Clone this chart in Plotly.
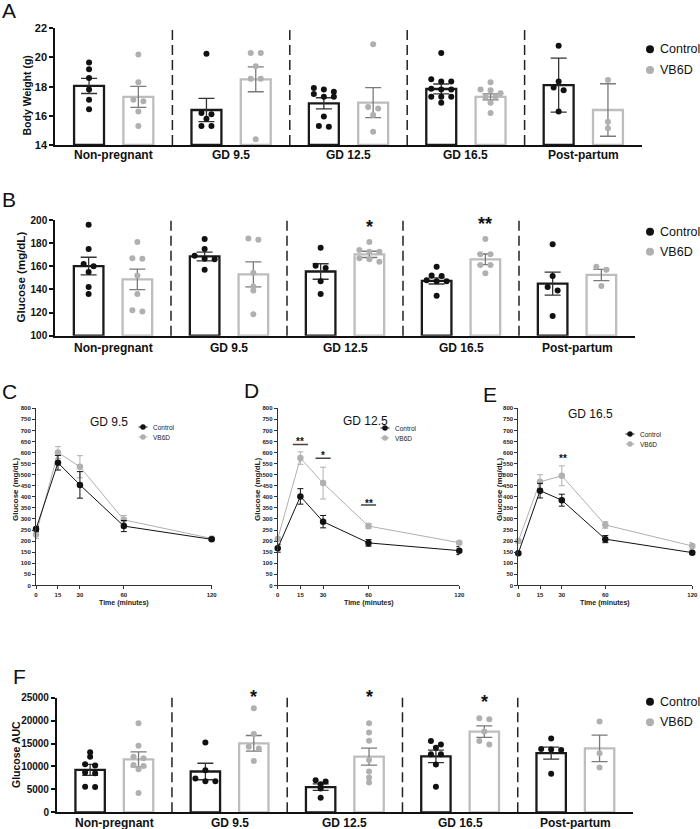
import plotly.graph_objects as go

W, H = 700, 829
def px(x): return x / W
def py(y): return 1 - y / H

FONT = "Arial, Liberation Sans, sans-serif"
CTRL_C = "#111111"
VB_C = "#b0b0b0"

groups = ["Non-pregnant", "GD 9.5", "GD 12.5", "GD 16.5", "Post-partum"]

# ---------------- Panel A: body weight (g) ----------------
bw_ctrl_pts = [[19.65, 19.2, 18.6, 17.8, 17.1, 16.45],
               [20.25, 16.2, 16.1, 15.8, 15.3, 15.3],
               [17.9, 17.8, 17.65, 17.5, 17.3, 17.3, 15.95, 15.3, 15.25],
               [20.3, 18.5, 18.35, 18.35, 17.85, 17.8, 17.8, 17.3, 17.3, 17.3, 16.9],
               [20.8, 18.35, 17.95, 17.75, 16.3]]
bw_ctrl_mean = [18.05, 16.4, 16.86, 17.84, 18.1]
bw_ctrl_sem = [0.52, 0.8, 0.38, 0.34, 1.85]
bw_vb_pts = [[20.2, 18.3, 17.1, 17.0, 16.3, 15.3],
             [20.3, 20.3, 19.4, 18.55, 18.55, 14.4],
             [20.9, 16.6, 16.5, 16.05, 14.9],
             [18.3, 17.8, 17.75, 17.55, 17.3, 17.3, 16.9, 16.2],
             [18.45, 15.6, 15.15]]
bw_vb_mean = [17.3, 18.5, 16.9, 17.3, 16.4]
bw_vb_sem = [0.72, 0.85, 1.03, 0.2, 1.8]

# ---------------- Panel B: glucose (mg/dL) ----------------
gl_ctrl_pts = [[196, 175, 162, 160, 155, 142, 136],
               [183.5, 175, 169, 166.5, 166, 157],
               [176, 160.5, 158.5, 147, 136],
               [159.5, 152, 151.5, 148, 147, 147, 134.5],
               [179, 151.5, 142, 139, 117]]
gl_ctrl_mean = [160.2, 168.5, 155.5, 147.3, 145]
gl_ctrl_sem = [7.6, 3.8, 6.7, 2.6, 10]
gl_vb_pts = [[181, 167, 166.5, 152, 136, 122, 121],
             [184, 183, 154.5, 142.5, 139, 118.5],
             [181, 174, 172.5, 172.5, 167, 166, 164],
             [183.5, 170.5, 170.5, 161, 161, 154],
             [159.5, 157, 143]]
gl_vb_mean = [148.7, 153, 170.3, 166, 152.5]
gl_vb_sem = [8.9, 10.8, 2.7, 4.6, 4.9]
gl_stars = [(2, "*", 197.7), (3, "**", 200)]

# ---------------- Panel F: glucose AUC ----------------
auc_ctrl_pts = [[13100, 12100, 10500, 10200, 8700, 8500, 5600, 5500],
                [15200, 9200, 7400, 6800, 6800],
                [7000, 6700, 6100, 5200, 3200],
                [15550, 14800, 14100, 12650, 12650, 10450, 5600],
                [16100, 13800, 13700, 13600, 8400]]
auc_ctrl_mean = [9250, 8900, 5500, 12200, 12900]
auc_ctrl_sem = [1200, 1800, 700, 1350, 1300]
auc_vb_pts = [[19400, 14500, 12100, 11800, 10300, 10100, 9400, 4200],
              [22700, 17100, 14300, 13900, 11200],
              [19400, 17400, 15600, 11400, 8900, 7600, 6500],
              [20500, 20300, 17600, 15550, 14800],
              [19800, 12900, 9800]]
auc_vb_mean = [11550, 15050, 12150, 17600, 13950]
auc_vb_sem = [1650, 1700, 1850, 1270, 2900]
auc_stars = [(1, "*", 25960), (2, "*", 25960), (3, "*", 24870)]

# ---------------- Panels C-E: GTT curves ----------------
times = [0, 15, 30, 60, 120]
c_ctrl = [255, 554, 454, 268, 208]
c_ctrl_sem = [12, 33, 60, 25, 6]
c_vb = [230, 600, 536, 296, 212]
c_vb_sem = [18, 27, 50, 20, 5]
d_ctrl = [168, 402, 288, 192, 157]
d_ctrl_sem = [18, 35, 28, 15, 18]
d_vb = [210, 575, 462, 268, 193]
d_vb_sem = [8, 28, 72, 12, 6]
e_ctrl = [145, 428, 385, 209, 148]
e_ctrl_sem = [6, 33, 27, 16, 6]
e_vb = [200, 468, 495, 273, 178]
e_vb_sem = [8, 32, 45, 15, 15]
d_sig_t = [15, 30, 60]
d_sig_bar_y = [637, 574, 363]
d_sig_star_y = [660, 597, 383]
d_sig_lab = ["**", "*", "**"]
e_sig_t = [31]
e_sig_star_y = [585]
e_sig_lab = ["**"]

fig = go.Figure()
annotations = []
shapes = []
layout_axes = {}


def axn(n):
    return "" if n == 1 else str(n)


def swarm(vals, center, ux, uy, dx=10.0, thr=4.0):
    order = sorted(vals, reverse=True)
    rows = []
    for v in order:
        if rows and (rows[-1][0] - v) * uy < thr:
            rows[-1].append(v)
        else:
            rows.append([v])
    xs, ys = [], []
    for r in rows:
        n = len(r)
        for j, v in enumerate(r):
            xs.append(center + (j - (n - 1) / 2.0) * dx / ux)
            ys.append(v)
    return xs, ys


def legend_big(x, y1, y2):
    for y, col, lab in [(y1, CTRL_C, "Control"), (y2, VB_C, "VB6D")]:
        shapes.append(dict(type="circle", xref="paper", yref="paper",
                           x0=px(x - 4), x1=px(x + 4), y0=py(y + 4), y1=py(y - 4),
                           fillcolor=col, line=dict(width=0)))
        annotations.append(dict(text=lab, xref="paper", yref="paper", x=px(x + 8), y=py(y),
                                xanchor="left", yanchor="middle", showarrow=False,
                                font=dict(family=FONT, size=12.5, color="#111")))


def add_bar_panel(n, xd, yd, rng, dtick, cp, cm, cs, vp, vm, vs,
                  ytitle, ytpos, ytsize, ytick_size, label_y, leg, stars):
    s = axn(n)
    xa, ya = "x" + s, "y" + s
    ux = (xd[1] - xd[0]) / 5.0
    uy = (yd[1] - yd[0]) / (rng[1] - rng[0])
    base = rng[0]
    series = [(cp, cm, cs, -0.21, CTRL_C, "#333333", "#1a1a1a"),
              (vp, vm, vs, 0.21, VB_C, "#7a7a7a", "#bdbdbd")]
    for pts, mean, sem, off, col, ecol, lc in series:
        fig.add_trace(go.Bar(x=[i + off for i in range(5)], y=[m - base for m in mean], base=base,
                             width=0.255, marker=dict(color="white", line=dict(color=lc, width=2.3)),
                             xaxis=xa, yaxis=ya, hoverinfo="skip"))
    for pts, mean, sem, off, col, ecol, lc in series:
        fig.add_trace(go.Scatter(x=[i + off for i in range(5)], y=mean, mode="markers",
                                 marker=dict(size=2, color="rgba(0,0,0,0)"),
                                 error_y=dict(type="data", array=sem, color=ecol, thickness=1.3, width=8),
                                 xaxis=xa, yaxis=ya, hoverinfo="skip", cliponaxis=False))
    for pts, mean, sem, off, col, ecol, lc in series:
        xs_all, ys_all = [], []
        for i, p in enumerate(pts):
            xs, ys = swarm(p, i + off, ux, uy)
            xs_all += xs
            ys_all += ys
        fig.add_trace(go.Scatter(x=xs_all, y=ys_all, mode="markers",
                                 marker=dict(size=6, color=col, line=dict(width=0)),
                                 xaxis=xa, yaxis=ya, hoverinfo="skip", cliponaxis=False))
    layout_axes["xaxis" + s] = dict(domain=[px(xd[0]), px(xd[1])], range=[-0.5, 4.5], anchor=ya,
                                    showticklabels=False, ticks="", automargin=False,
                                    showline=True, linecolor="#111", linewidth=1.5,
                                    showgrid=False, zeroline=False)
    layout_axes["yaxis" + s] = dict(domain=[py(yd[1]), py(yd[0])], range=list(rng), anchor=xa,
                                    dtick=dtick, tick0=rng[0], ticks="outside", ticklen=4, tickwidth=1.5,
                                    tickcolor="#111", showline=True, linecolor="#111", linewidth=1.5,
                                    showgrid=False, zeroline=False, tickformat="d", automargin=False,
                                    tickfont=dict(family=FONT, size=ytick_size, color="#111", weight="bold"))
    for i, g in enumerate(groups):
        annotations.append(dict(text=g, xref=xa, yref="paper", x=i, y=py(label_y), showarrow=False,
                                xanchor="center", yanchor="middle",
                                font=dict(family=FONT, size=12, color="#111", weight="bold")))
    for k in range(4):
        shapes.append(dict(type="line", xref=xa, yref=ya + " domain", x0=k + 0.5, x1=k + 0.5,
                           y0=0, y1=1, line=dict(color="#222", width=1.5, dash="10px,5px")))
    annotations.append(dict(text=ytitle, xref="paper", yref="paper", x=px(ytpos[0]), y=py(ytpos[1]),
                            textangle=-90, showarrow=False, xanchor="center", yanchor="middle",
                            font=dict(family=FONT, size=ytsize, color="#111", weight="bold")))
    for gi, lab, yv in stars:
        ypix = yd[1] - (yv - rng[0]) * uy
        annotations.append(dict(text=lab, xref=xa, yref="paper", x=gi + 0.21, y=py(ypix), showarrow=False,
                                xanchor="center", yanchor="middle", yshift=-4,
                                font=dict(family=FONT, size=18, color="#111", weight="bold")))
    legend_big(*leg)


add_bar_panel(1, (55, 642), (28.3, 145), (14, 22), 2,
              bw_ctrl_pts, bw_ctrl_mean, bw_ctrl_sem, bw_vb_pts, bw_vb_mean, bw_vb_sem,
              "Body Weight (g)", (26.5, 96), 10.5, 11, 155, (650, 49.3, 70), [])
add_bar_panel(2, (55, 635), (220, 335.7), (100, 200), 20,
              gl_ctrl_pts, gl_ctrl_mean, gl_ctrl_sem, gl_vb_pts, gl_vb_mean, gl_vb_sem,
              "Glucose (mg/dL)", (20.5, 277), 11.5, 10, 348, (650, 231.7, 251.7), gl_stars)
add_bar_panel(6, (56.7, 633), (697.7, 812.3), (0, 25000), 5000,
              auc_ctrl_pts, auc_ctrl_mean, auc_ctrl_sem, auc_vb_pts, auc_vb_mean, auc_vb_sem,
              "Glucose AUC", (16, 755), 10.5, 10, 822.5, (650, 701.7, 722.3), auc_stars)


def add_line_panel(n, xd, title, tpos, cm, cs, vm, vs, leg, ylab_x, sig_t, sig_bar_y, sig_star_y, sig_lab):
    s = axn(n)
    xa, ya = "x" + s, "y" + s
    for mean, sem, col in [(vm, vs, VB_C), (cm, cs, CTRL_C)]:
        fig.add_trace(go.Scatter(x=times, y=mean, mode="lines+markers",
                                 line=dict(color=col, width=1),
                                 marker=dict(size=6.5, color=col),
                                 error_y=dict(type="data", array=sem, color=col, thickness=1, width=3),
                                 xaxis=xa, yaxis=ya, hoverinfo="skip", cliponaxis=False))
    layout_axes["xaxis" + s] = dict(domain=[px(xd[0]), px(xd[1])], range=[0, 120], anchor=ya,
                                    tickvals=times, ticks="outside", ticklen=3, tickwidth=1,
                                    tickcolor="#333", showline=True, linecolor="#333", linewidth=1,
                                    showgrid=False, zeroline=False, automargin=False,
                                    tickfont=dict(family=FONT, size=6, color="#222", weight="bold"))
    layout_axes["yaxis" + s] = dict(domain=[py(585.4), py(408.3)], range=[0, 800], anchor=xa,
                                    dtick=50, ticks="outside", ticklen=3, tickwidth=1,
                                    tickcolor="#333", showline=True, linecolor="#333", linewidth=1,
                                    showgrid=False, zeroline=False, automargin=False,
                                    tickfont=dict(family=FONT, size=6, color="#222", weight="bold"))
    annotations.append(dict(text=title, xref="paper", yref="paper", x=px(tpos[0]), y=py(tpos[1]),
                            showarrow=False, xanchor="center", yanchor="middle",
                            font=dict(family=FONT, size=12, color="#111")))
    annotations.append(dict(text="Glucose (mg/dL)", xref="paper", yref="paper", x=px(ylab_x), y=py(490),
                            textangle=-90, showarrow=False, xanchor="center", yanchor="middle",
                            font=dict(family=FONT, size=8, color="#222", weight="bold")))
    annotations.append(dict(text="Time (minutes)", xref="paper", yref="paper",
                            x=px((xd[0] + xd[1]) / 2), y=py(603), showarrow=False,
                            xanchor="center", yanchor="middle",
                            font=dict(family=FONT, size=7, color="#222", weight="bold")))
    lx, ly1, ly2 = leg
    for y, col, lab in [(ly1, CTRL_C, "Control"), (ly2, VB_C, "VB6D")]:
        shapes.append(dict(type="line", xref="paper", yref="paper", x0=px(lx - 4.5), x1=px(lx + 4.5),
                           y0=py(y), y1=py(y), line=dict(color=col, width=1)))
        shapes.append(dict(type="circle", xref="paper", yref="paper", x0=px(lx - 2.7), x1=px(lx + 2.7),
                           y0=py(y + 2.7), y1=py(y - 2.7), fillcolor=col, line=dict(width=0)))
        annotations.append(dict(text=lab, xref="paper", yref="paper", x=px(lx + 8), y=py(y),
                                xanchor="left", yanchor="middle", showarrow=False,
                                font=dict(family=FONT, size=6.5, color="#222")))
    for t, yb in zip(sig_t, sig_bar_y):
        shapes.append(dict(type="line", xref=xa, yref=ya, x0=t - 5, x1=t + 5, y0=yb, y1=yb,
                           line=dict(color="#444", width=1.5)))
    for t, ys, lab in zip(sig_t, sig_star_y, sig_lab):
        annotations.append(dict(text=lab, xref=xa, yref=ya, x=t, y=ys, showarrow=False,
                                xanchor="center", yanchor="middle", yshift=-2.5,
                                font=dict(family=FONT, size=10, color="#111", weight="bold")))


add_line_panel(3, (36, 211.7), "GD 9.5", (108.5, 422), c_ctrl, c_ctrl_sem, c_vb, c_vb_sem,
               (143, 427, 437), 15, [], [], [], [])
add_line_panel(4, (277.7, 459.3), "GD 12.5", (365, 421), d_ctrl, d_ctrl_sem, d_vb, d_vb_sem,
               (385, 428, 438), 257, d_sig_t, d_sig_bar_y, d_sig_star_y, d_sig_lab)
add_line_panel(5, (518.3, 692.3), "GD 16.5", (590, 414), e_ctrl, e_ctrl_sem, e_vb, e_vb_sem,
               (630, 434, 444), 499, e_sig_t, [], e_sig_star_y, e_sig_lab)

for lab, x, y in [("A", 0, 11), ("B", 0, 199), ("C", 0, 392), ("D", 242, 390), ("E", 481, 394), ("F", 11, 676)]:
    annotations.append(dict(text=lab, xref="paper", yref="paper", x=px(x), y=py(y), showarrow=False,
                            xanchor="left", yanchor="middle",
                            font=dict(family=FONT, size=21, color="#111")))

fig.update_layout(template="none", width=W, height=H, autosize=False,
                  margin=dict(l=0, r=0, t=0, b=0, pad=0, autoexpand=False),
                  paper_bgcolor="white", plot_bgcolor="white", showlegend=False,
                  barmode="overlay", annotations=annotations, shapes=shapes, **layout_axes)

fig.write_html("out.html", config={"displayModeBar": False, "responsive": False},
               post_script="document.body.style.margin='0';document.body.style.padding='0';"
                           "document.documentElement.style.overflow='hidden';")
